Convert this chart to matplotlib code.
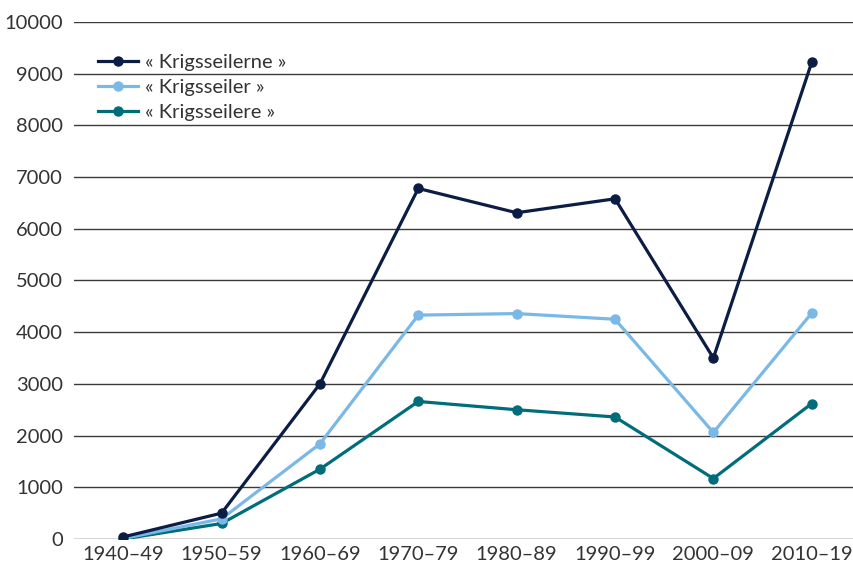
import numpy as np
import matplotlib
matplotlib.use('Agg')
import matplotlib.pyplot as plt

plt.rcParams['font.family'] = ['Lato', 'DejaVu Sans']

periods = ['1940–49', '1950–59', '1960–69', '1970–79', '1980–89', '1990–99', '2000–09', '2010–19']
krigsseilerne = [40, 500, 3000, 6780, 6310, 6580, 3500, 9220]
krigsseiler = [10, 390, 1840, 4330, 4360, 4250, 2060, 4370]
krigsseilere = [0, 300, 1350, 2660, 2500, 2360, 1170, 2620]

series = [
    ('« Krigsseilerne »', krigsseilerne, '#0b1d45'),
    ('« Krigsseiler »', krigsseiler, '#7ab8e6'),
    ('« Krigsseilere »', krigsseilere, '#006d7a'),
]

fig = plt.figure(figsize=(8.54, 5.66), dpi=100)
ax = fig.add_axes([0.0867, 0.0477, 0.9133, 0.9135])

x = np.arange(len(periods))
# draw in reverse so the dark line is on top
for label, vals, col in series[::-1]:
    ax.plot(x, vals, color=col, lw=2.3, marker='o', ms=6.5, label=label, zorder=3)

ax.set_xlim(-0.5, 7.43)
ax.set_ylim(0, 10000)
ax.set_yticks(np.arange(0, 10001, 1000))
ax.set_xticks(x)
ax.set_xticklabels(periods)
ax.grid(axis='y', color='#3a3a3a', lw=1.0, zorder=1)
ax.set_axisbelow(True)
for s in ax.spines.values():
    s.set_visible(False)
ax.tick_params(axis='both', length=0, labelsize=14.5, colors='#333333')
ax.tick_params(axis='y', pad=8)
ax.tick_params(axis='x', pad=5)
for t in ax.get_yticklabels():
    t.set_clip_on(False)

handles, labels = ax.get_legend_handles_labels()
leg = ax.legend(handles[::-1], labels[::-1], loc='upper left', bbox_to_anchor=(0.0205, 0.954),
                frameon=False, fontsize=14.5, handlelength=2.0, handletextpad=0.35,
                labelspacing=0.4, numpoints=1, borderaxespad=0)
for t in leg.get_texts():
    t.set_color('#333333')

fig.savefig('out.png', dpi=100)
